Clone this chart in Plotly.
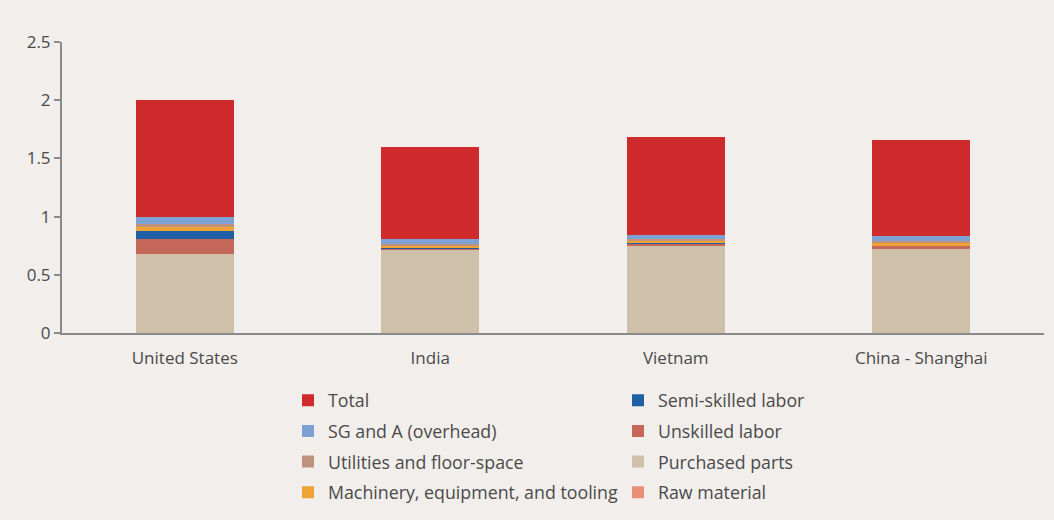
import plotly.graph_objects as go

# Cost per unit by production location (stacked components + total)
locations = ["United States", "India", "Vietnam", "China - Shanghai"]

raw_material = [0.0, 0.0, 0.0, 0.0]
purchased_parts = [0.68, 0.72, 0.75, 0.72]
unskilled_labor = [0.13, 0.01, 0.02, 0.03]
semi_skilled_labor = [0.07, 0.005, 0.005, 0.005]
machinery = [0.03, 0.01, 0.015, 0.015]
utilities = [0.03, 0.02, 0.02, 0.02]
sg_and_a = [0.06, 0.04, 0.03, 0.04]
total = [1.00, 0.79, 0.84, 0.83]

y_ticks = [0, 0.5, 1, 1.5, 2, 2.5]
y_tick_labels = ["0", "0.5", "1", "1.5", "2", "2.5"]

# stack order (bottom first): name, values, colour, legend box, rank in box
series = [
    ("Raw material", raw_material, "#e98f78", "legend2", 4),
    ("Purchased parts", purchased_parts, "#cfc0aa", "legend2", 3),
    ("Unskilled labor", unskilled_labor, "#c5685a", "legend2", 2),
    ("Semi-skilled labor", semi_skilled_labor, "#1f5fa6", "legend2", 1),
    ("Machinery, equipment, and tooling", machinery, "#efa332", "legend", 4),
    ("Utilities and floor-space", utilities, "#bf927d", "legend", 3),
    ("SG and A (overhead)", sg_and_a, "#7fa2d4", "legend", 2),
    ("Total", total, "#cf2b2d", "legend", 1),
]

fig = go.Figure()
for name, values, color, box, rank in series:
    fig.add_trace(go.Bar(
        x=locations, y=values, name=name,
        marker=dict(color=color, line=dict(width=0)),
        legend=box, legendgroup=name, legendrank=rank,
    ))

bg = "#f1eeeb"
text_color = "#4a4a4a"
axis_color = "#8a8a8a"

legend_common = dict(
    orientation="v",
    xref="container", yref="container",
    yanchor="top", y=0.265,
    traceorder="grouped",
    tracegroupgap=4.5,
    font=dict(family="Open Sans", size=17.8, color=text_color),
    bgcolor="rgba(0,0,0,0)",
    itemclick=False,
)

fig.update_layout(
    barmode="stack",
    bargap=0.6,
    width=1054, height=520,
    paper_bgcolor=bg, plot_bgcolor=bg,
    margin=dict(l=62, r=10, t=42, b=187, autoexpand=False),
    font=dict(family="Open Sans", size=17, color=text_color),
    showlegend=True,
    legend=dict(x=288 / 1054, xanchor="left", **legend_common),
    legend2=dict(x=618 / 1054, xanchor="left", **legend_common),
    xaxis=dict(
        showline=True, linecolor=axis_color, linewidth=2,
        ticks="outside", ticklen=9, tickcolor="rgba(0,0,0,0)",
        showgrid=False, automargin=False,
        tickfont=dict(size=17, color=text_color),
    ),
    yaxis=dict(
        range=[0, 2.5],
        tickvals=y_ticks, ticktext=y_tick_labels,
        showline=True, linecolor=axis_color, linewidth=2,
        ticks="outside", ticklen=6, tickcolor=axis_color, tickwidth=1.5,
        showgrid=False, zeroline=False, automargin=False,
        tickfont=dict(size=17, color=text_color),
    ),
)

fig.write_html("out.html")
